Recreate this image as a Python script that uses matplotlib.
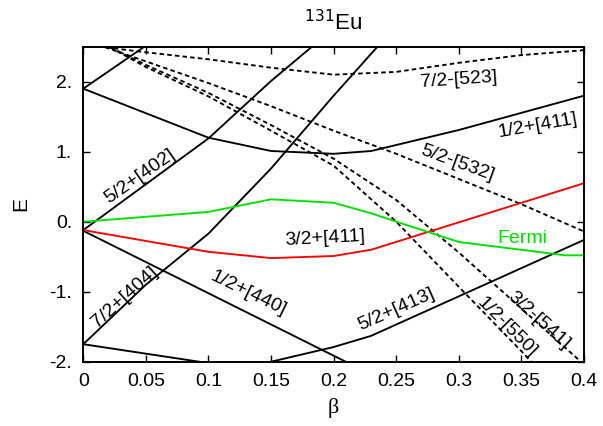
import matplotlib
matplotlib.use("Agg")
import matplotlib.pyplot as plt

plt.rcParams['font.family'] = ['Liberation Sans', 'DejaVu Sans']

# beta grid for the negative-parity (dashed) orbitals
beta = [0, 0.05, 0.1, 0.15, 0.2, 0.25, 0.3, 0.35, 0.4]
e_523 = [2.53, 2.42, 2.32, 2.20, 2.10, 2.14, 2.27, 2.38, 2.45]
e_532 = [2.60, 2.29, 1.98, 1.65, 1.30, 0.97, 0.61, 0.25, -0.14]
e_541 = [2.68, 2.24, 1.84, 1.38, 0.90, 0.31, -0.44, -1.24, -2.04]
e_550 = [2.70, 2.21, 1.79, 1.30, 0.80, 0.00, -0.93, -1.85, -2.80]

# positive-parity (solid) orbitals
b_402 = [0, 0.1, 0.15, 0.2]
e_402 = [-0.12, 1.19, 2.01, 2.76]
b_404 = [0, 0.05, 0.1, 0.15, 0.2, 0.25]
e_404 = [-1.75, -0.90, -0.17, 0.76, 1.80, 2.80]
b_440 = [0, 0.25]
e_440 = [-0.13, -2.36]
b_411a = [0, 0.1, 0.15, 0.2, 0.23, 0.3, 0.4]
e_411a = [1.90, 1.20, 1.01, 0.97, 1.01, 1.31, 1.80]
b_steep = [0, 0.1]
e_steep = [1.90, 3.13]
b_413 = [0.1, 0.15, 0.2, 0.23, 0.4]
e_413 = [-2.20, -2.00, -1.79, -1.63, -0.26]
b_low = [0, 0.1, 0.15]
e_low = [-1.75, -2.02, -2.15]

# 3/2+[411] (red) and Fermi level (green)
b_411b = [0, 0.1, 0.15, 0.2, 0.23, 0.4]
e_411b = [-0.12, -0.43, -0.52, -0.49, -0.40, 0.55]
b_fermi = [0, 0.1, 0.15, 0.2, 0.23, 0.25, 0.3, 0.385, 0.4]
e_fermi = [0.0, 0.14, 0.32, 0.27, 0.12, 0.0, -0.29, -0.48, -0.48]

xticks = [0, 0.05, 0.1, 0.15, 0.2, 0.25, 0.3, 0.35, 0.4]
xticklabels = ["0", "0.05", "0.1", "0.15", "0.2", "0.25", "0.3", "0.35", "0.4"]
yticks = [-2, -1, 0, 1, 2]
yticklabels = ["-2.", "-1.", "0.", "1.", "2."]

fig = plt.figure(figsize=(6.03, 4.26), dpi=100)
ax = fig.add_axes([0.1381, 0.1509, 0.8304, 0.7395])

lw = 1.35
dash = (2.4, 1.7)
for e in [e_523, e_532, e_541, e_550]:
    ax.plot(beta, e, color="black", lw=lw, dashes=dash)

for b, e in [(b_402, e_402), (b_404, e_404), (b_440, e_440), (b_411a, e_411a),
             (b_steep, e_steep), (b_413, e_413), (b_low, e_low)]:
    ax.plot(b, e, color="black", lw=lw)

ax.plot(b_411b, e_411b, color="#ff0000", lw=lw)
ax.plot(b_fermi, e_fermi, color="#00e000", lw=lw)

fs = 14
labels = [
    ("7/2-[523]", 0.300, 2.03, 4),
    ("1/2+[411]", 0.363, 1.37, 10),
    ("5/2-[532]", 0.299, 0.84, -20),
    ("5/2+[402]", 0.045, 0.64, 35),
    ("3/2+[411]", 0.193, -0.24, 3),
    ("7/2+[404]", 0.033, -1.08, 42),
    ("1/2+[440]", 0.132, -1.02, -26),
    ("5/2+[413]", 0.250, -1.26, 24),
    ("1/2-[550]", 0.338, -1.50, -45),
    ("3/2-[541]", 0.364, -1.41, -42),
]
for txt, x, y, rot in labels:
    ax.text(x, y, txt, fontsize=fs, rotation=rot, ha="center", va="center",
            rotation_mode="anchor")
ax.text(0.351, -0.24, "Fermi", fontsize=fs, color="#00e000", ha="center", va="center")

ax.set_xlim(0, 0.4)
ax.set_ylim(-2, 2.5)
ax.set_xticks(xticks)
ax.set_xticklabels(xticklabels)
ax.set_yticks(yticks)
ax.set_yticklabels(yticklabels)
ax.tick_params(direction="in", length=5, width=1.0, top=True, right=True,
               labelsize=fs, pad=8)
for s in ax.spines.values():
    s.set_linewidth(1.4)

ax.set_xlabel("β", fontsize=fs + 2, family=["Liberation Serif", "DejaVu Serif"], labelpad=6)
ax.set_ylabel("E", fontsize=fs + 1, labelpad=14)
ax.set_title("$^{131}$Eu", fontsize=fs + 2, pad=12)

fig.savefig("out.png", dpi=100)
